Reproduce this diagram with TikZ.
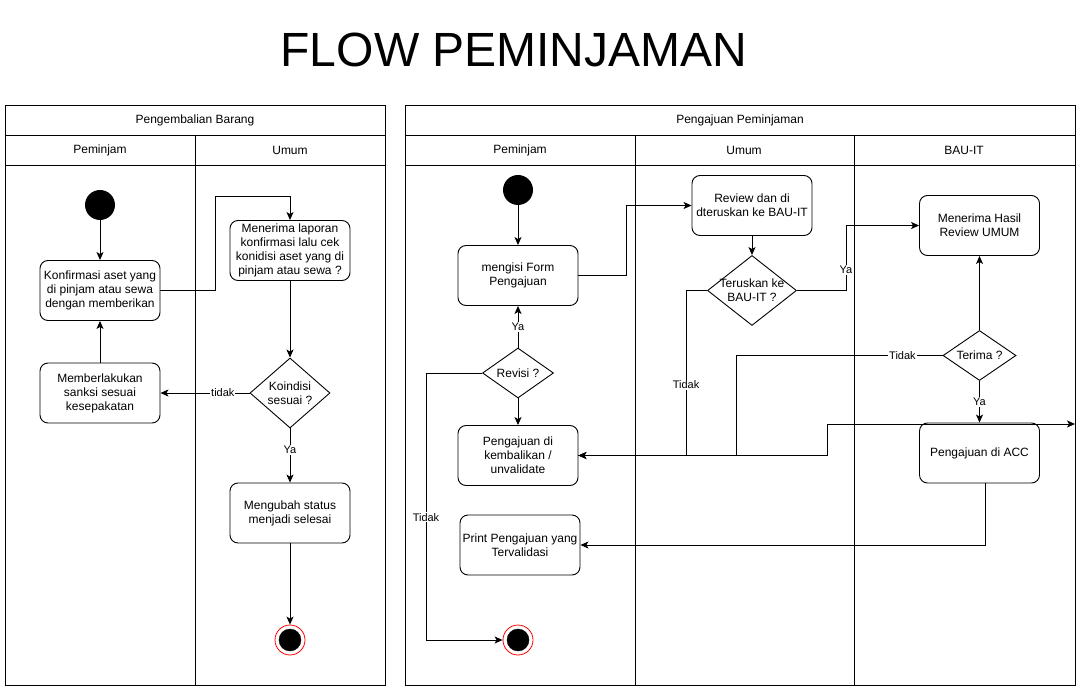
\documentclass[tikz,border=0pt]{standalone}
\usepackage{fontspec}
\setmainfont{Liberation Sans}
\usetikzlibrary{shapes.geometric,arrows.meta,calc}
\begin{document}
\begin{tikzpicture}[x=1pt,y=-1pt,
  every node/.style={font=\fontsize{12}{14}\selectfont},
  act/.style={draw, rounded corners=8pt, minimum width=120pt, minimum height=60pt, align=center, inner sep=1pt, line width=0.9pt},
  dec/.style={draw, diamond, inner sep=0pt, line width=0.9pt},
  startn/.style={circle, fill=black, minimum size=30pt, inner sep=0pt},
  endring/.style={circle, draw=red, fill=white, minimum size=30pt, inner sep=0pt, line width=0.8pt},
  enddot/.style={circle, fill=black, draw=black, minimum size=22pt, inner sep=0pt},
  arr/.style={-{Stealth[length=8pt,width=7pt,inset=2pt]}, line width=0.9pt},
  lbl/.style={fill=white, inner sep=1pt, font=\fontsize{11}{13}\selectfont},
  lane/.style={line width=0.9pt},
]
\fill[white] (0,0) rectangle (1090,692);
\useasboundingbox (0,0) rectangle (1090,692);

% title
\node[font=\fontsize{48}{48}\selectfont, inner sep=0pt] (title) at (514,50) {FLOW PEMINJAMAN};

% left pool
\draw[lane] (5,105) rectangle (385,685);
\draw[lane] (5,135) -- (385,135);
\draw[lane] (5,165) -- (385,165);
\draw[lane] (195,135) -- (195,685);
\node (p1t) at (195,120) {Pengembalian Barang};
\node (p1a) at (100,150) {Peminjam};
\node (p1b) at (290,150) {Umum};

% right pool
\draw[lane] (405,105) rectangle (1075,685);
\draw[lane] (405,135) -- (1075,135);
\draw[lane] (405,165) -- (1075,165);
\draw[lane] (635,135) -- (635,685);
\draw[lane] (854,135) -- (854,685);
\node (p2t) at (740,120) {Pengajuan Peminjaman};
\node (p2a) at (520,150) {Peminjam};
\node (p2b) at (744,150) {Umum};
\node (p2c) at (964,150) {BAU-IT};

% left nodes
\node[startn] (s1) at (100,205) {};
\node[act] (konf) at (100,290.5) {Konfirmasi aset yang\\di pinjam atau sewa\\dengan memberikan};
\node[act] (sanksi) at (100,393) {Memberlakukan\\sanksi sesuai\\kesepakatan};
\node[act] (lapor) at (290,250.5) {Menerima laporan\\konfirmasi lalu cek\\konidisi aset yang di\\pinjam atau sewa ?};
\node[dec, minimum width=80pt, minimum height=70pt] (kond) at (290,393) {};
\node[align=center] (kondt) at (kond) {Koindisi\\sesuai ?};
\node[act] (ubah) at (290,513) {Mengubah status\\menjadi selesai};
\node[endring] (e1) at (290,640) {};
\node[enddot] (e1d) at (e1) {};

% right nodes
\node[startn] (s2) at (518,190) {};
\node[act] (form) at (518,275.5) {mengisi Form\\Pengajuan};
\node[dec, minimum width=71pt, minimum height=50pt] (rev) at (518,373) {};
\node (revt) at (rev) {Revisi ?};
\node[act] (kemb) at (518,455.5) {Pengajuan di\\kembalikan /\\unvalidate};
\node[act] (print) at (520,545) {Print Pengajuan yang\\Tervalidasi};
\node[act] (review) at (752,205.5) {Review dan di\\dteruskan ke BAU-IT};
\node[dec, minimum width=89pt, minimum height=70pt] (terus) at (752,290.5) {};
\node[align=center] (terust) at (terus) {Teruskan ke\\BAU-IT ?};
\node[act] (hasil) at (979.5,225.5) {Menerima Hasil\\Review UMUM};
\node[dec, minimum width=73pt, minimum height=50pt] (terima) at (979.5,355.5) {};
\node (terimat) at (terima) {Terima ?};
\node[act] (acc) at (979.5,453) {Pengajuan di ACC};
\node[endring] (e2) at (518,640) {};
\node[enddot] (e2d) at (e2) {};

% left edges
\draw[arr] (s1.south) -- (konf.north);
\coordinate (w1) at (215,196);
\draw[arr] (konf.east) -| (w1) -| (lapor.north);
\draw[arr] (lapor.south) -- (kond.north);
\draw[arr] (kond.west) -- node[lbl, pos=0.3] {tidak} (sanksi.east);
\draw[arr] (kond.south) -- node[lbl, pos=0.4] {Ya} (ubah.north);
\draw[arr] (sanksi.north) -- (konf.south);
\draw[arr] (ubah.south) -- (e1.north);

% right edges
\draw[arr] (s2.south) -- (form.north);
\coordinate (w2) at (626,205.5);
\draw[arr] (form.east) -| (w2) -- (review.west);
\draw[arr] (review.south) -- (terus.north);
\coordinate (w3) at (846,225.5);
\draw[arr] (terus.east) -| node[lbl, pos=0.66] {Ya} (w3) -- (hasil.west);
\coordinate (w6) at (827,455.5);
\coordinate (w7) at (1075,424);
\draw[arr] (kemb.east) -- (w6) |- (w7);
\coordinate (w4) at (686,455.5);
\draw[arr] (terus.west) -| node[lbl, pos=0.786] {Tidak} (w4) -- (kemb.east);
\coordinate (w5) at (736,455.5);
\draw[arr] (terima.west) -| node[lbl, pos=0.097] {Tidak} (w5) -- (kemb.east);
\draw[arr] (terima.north) -- (hasil.south);
\draw[arr] (terima.south) -- node[lbl] {Ya} (acc.north);
\draw[arr] ($(acc.south)+(5.5,0)$) |- (print.east);
\coordinate (w8) at (426,640);
\draw[arr] (rev.west) -| node[lbl, pos=0.77] {Tidak} (w8) -- (e2.west);
\draw[arr] (rev.north) -- node[lbl] {Ya} (form.south);
\draw[arr] (rev.south) -- (kemb.north);
\end{tikzpicture}
\end{document}
